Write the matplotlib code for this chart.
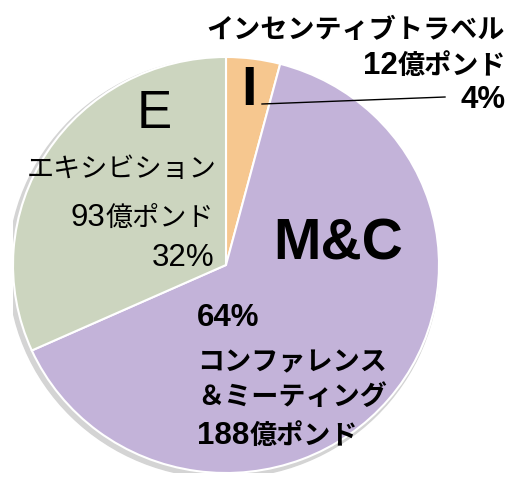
import matplotlib.pyplot as plt
from matplotlib.patches import Ellipse

plt.rcParams['font.family'] = ['Liberation Sans', 'Noto Sans CJK JP', 'DejaVu Sans']

# データ（億ポンド）
labels = ['I', 'M&C', 'E']
values = [12, 188, 93]
colors = ['#F6C78F', '#C3B3D9', '#CCD5BF']

W, H = 515, 485
fig = plt.figure(figsize=(W / 100, H / 100), dpi=100)

# 円の位置（ピクセル）: 左13, 右439, 上58, 下474
ax = fig.add_axes([13 / W, 11 / H, 426 / W, 416 / H])

# うっすら影
ax.add_patch(Ellipse((-0.012, -0.014), 2.02, 2.02, color='#d4d4d4', zorder=0))

ax.pie(values, colors=colors, startangle=90, counterclock=False, radius=1,
       wedgeprops=dict(edgecolor='white', linewidth=1.5))
ax.set_aspect('auto')
ax.set_xlim(-1, 1)
ax.set_ylim(-1, 1)
ax.axis('off')

LAT = dict(family='Liberation Sans', size=22.5)
CJK = dict(family=['Noto Sans CJK JP'], size=19.5)


def px(x, y):
    return x / W, 1 - y / H


# 数字(ラテン)とカナで文字サイズを変えて1行を組む
def line(x, y, parts, ha='left', weight='normal'):
    fx, fy = px(x, y)
    seq = parts if ha == 'left' else parts[::-1]
    prev = None
    for s, f in seq:
        if prev is None:
            prev = fig.text(fx, fy, s, ha=ha, va='baseline', fontweight=weight, **f)
        else:
            prev = ax.annotate(s, xy=(1 if ha == 'left' else 0, fy),
                               xycoords=(prev, 'figure fraction'),
                               ha=ha, va='baseline', fontweight=weight, **f)
    return prev


# I
fig.text(*px(249, 91), 'I', fontsize=40, fontweight='bold', ha='center', va='center')
fig.text(*px(505, 30), 'インセンティブトラベル', fontweight='bold', ha='right', va='center', **CJK)
line(506, 74, [('12', LAT), ('億ポンド', CJK)], ha='right', weight='bold')
line(506, 108, [('4%', LAT)], ha='right', weight='bold')
fig.add_artist(plt.Line2D([262 / W, 445 / W], [1 - 105 / H, 1 - 98 / H], color='black', lw=1))

# E
fig.text(*px(154, 114), 'E', fontsize=38, ha='center', va='center')
fig.text(*px(217, 170), 'エキシビション', ha='right', va='center', **CJK)
line(214, 226, [('93', LAT), ('億ポンド', CJK)], ha='right')
line(214, 266, [('32%', LAT)], ha='right')

# M&C
fig.text(*px(338, 244), 'M&C', fontsize=41, fontweight='bold', ha='center', va='center')
line(197, 326, [('64%', LAT)], weight='bold')
fig.text(*px(197, 362), 'コンファレンス', fontweight='bold', ha='left', va='center', **CJK)
fig.text(*px(197, 397), '＆ミーティング', fontweight='bold', ha='left', va='center', **CJK)
line(197, 444, [('188', LAT), ('億ポンド', CJK)], weight='bold')

fig.savefig('out.png', dpi=100)
